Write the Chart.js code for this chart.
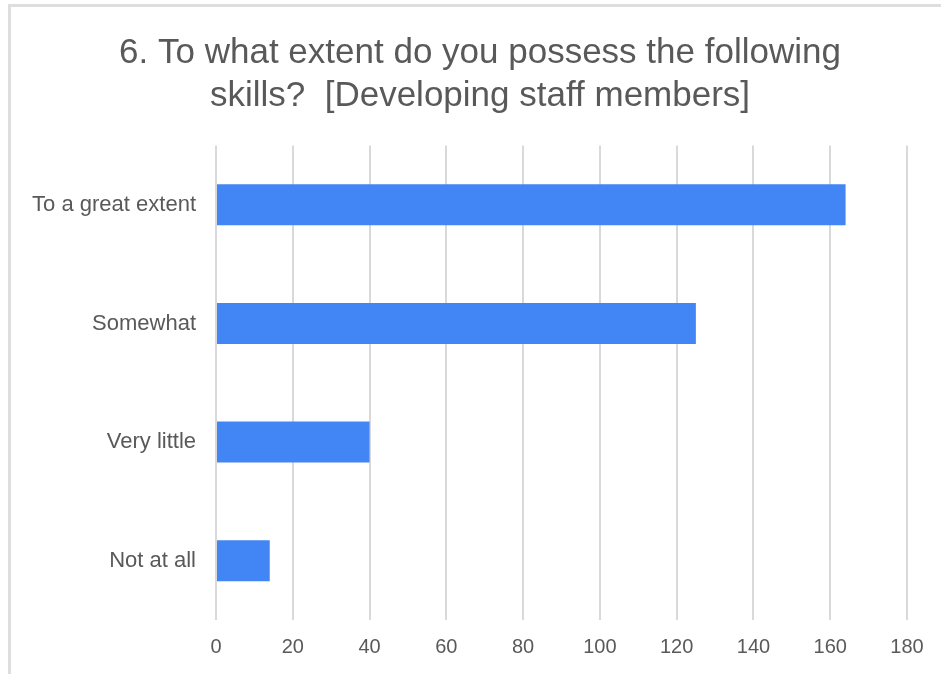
<!DOCTYPE html>
<html>
<head>
<meta charset="utf-8">
<script src="https://cdn.jsdelivr.net/npm/chart.js@4.4.1/dist/chart.umd.min.js"></script>
<style>
  html, body { margin: 0; padding: 0; background: #fff; }
  #frame {
    position: absolute; left: 8px; top: 4px; width: 960px; height: 700px;
    border-top: 3px solid #dedede; border-left: 3px solid #dedede;
  }
  #skillsChart { position: absolute; left: 0; top: 0; }
</style>
</head>
<body>
<div id="frame"></div>
<canvas id="skillsChart" width="941" height="674"></canvas>
<script>
const titleLines = ["6. To what extent do you possess the following", "skills?  [Developing staff members]"];
const categories = ["To a great extent", "Somewhat", "Very little", "Not at all"];
const responses = [164, 125, 40, 14];
const xTicks = [0, 20, 40, 60, 80, 100, 120, 140, 160, 180];

const textColor = "#595959";
const fontFamily = "'Liberation Sans', Arial, sans-serif";

const ctx = document.getElementById("skillsChart").getContext("2d");
new Chart(ctx, {
    type: "bar",
    data: {
        labels: categories,
        datasets: [{
            data: responses,
            backgroundColor: "#4285f4",
            borderWidth: 0,
            barPercentage: 0.345,
            categoryPercentage: 1
        }]
    },
    options: {
        indexAxis: "y",
        responsive: false,
        animation: false,
        layout: {
            padding: { left: 20, right: 1, top: 0, bottom: 0 }
        },
        plugins: {
            legend: { display: false },
            tooltip: { enabled: false },
            title: {
                display: true,
                text: titleLines,
                color: textColor,
                font: { family: fontFamily, size: 35, weight: "normal", lineHeight: 1.25 },
                padding: { top: 31, bottom: 27 }
            }
        },
        scales: {
            x: {
                min: xTicks[0],
                max: xTicks[xTicks.length - 1],
                afterBuildTicks: (scale) => {
                    scale.ticks = xTicks.map(v => ({ value: v }));
                },
                // keep room on the right so the plot ends at the 180 gridline
                afterFit: (scale) => { scale.paddingRight = 34; },
                grid: { color: "#d9d9d9", lineWidth: 2, drawTicks: false },
                border: { display: false },
                ticks: {
                    color: textColor,
                    padding: 15,
                    font: { family: fontFamily, size: 20 }
                }
            },
            y: {
                grid: { display: false, drawTicks: false },
                border: { display: false },
                afterFit: (scale) => { scale.width = 196; },
                ticks: {
                    color: textColor,
                    padding: 20,
                    font: { family: fontFamily, size: 22 }
                }
            }
        }
    }
});
</script>
</body>
</html>
